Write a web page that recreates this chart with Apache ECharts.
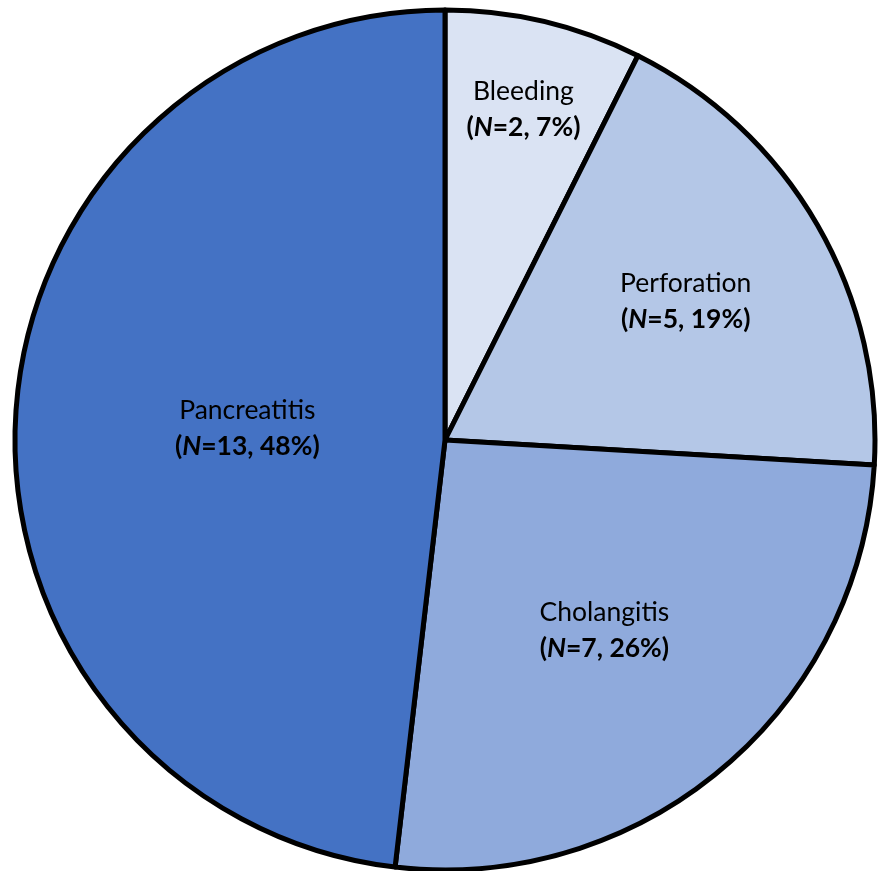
<!DOCTYPE html>
<html>
<head>
<meta charset="utf-8">
<script src="https://cdn.jsdelivr.net/npm/echarts@6/dist/echarts.min.js"></script>
<style>
html,body{margin:0;padding:0;background:#fff;}
#chart{width:878px;height:871px;}
</style>
</head>
<body>
<div id="chart"></div>
<script>
// Data
const categories = ['Bleeding', 'Perforation', 'Cholangitis', 'Pancreatitis'];
const counts = [2, 5, 7, 13];
// Styling / layout (not data)
const colors = ['#DAE3F3', '#B4C7E7', '#8FAADC', '#4472C4'];
const labelRadius = [674, 550, 490, 390]; // label sits at half of this radius

const total = counts.reduce((a, b) => a + b, 0);
const center = [445, 440];
const fontFamily = 'Lato, "Open Sans", sans-serif';

function labelText(i) {
  const pct = Math.round(counts[i] / total * 100);
  return '{n|' + categories[i] + '}\n{b|(}{bi|N}{b|=' + counts[i] + ', ' + pct + '%)}';
}

const fs = 26.5, lh = 36;
const rich = {
  n: { fontSize: fs, fontFamily: fontFamily, color: '#000', lineHeight: lh },
  b: { fontSize: fs, fontFamily: fontFamily, fontWeight: 'bold', color: '#000', lineHeight: lh },
  bi: { fontSize: fs, fontFamily: fontFamily, fontWeight: 'bold', fontStyle: 'italic', color: '#000', lineHeight: lh }
};

const series = [{
  type: 'pie',
  center: center,
  radius: [0, 430],
  startAngle: 90,
  clockwise: true,
  silent: true,
  label: { show: false },
  labelLine: { show: false },
  emphasis: { disabled: true },
  itemStyle: { borderColor: '#000', borderWidth: 5 },
  data: categories.map((c, i) => ({ name: c, value: counts[i], itemStyle: { color: colors[i] } }))
}];

categories.forEach((c, k) => {
  series.push({
    type: 'pie',
    center: center,
    radius: [0, labelRadius[k]],
    startAngle: 90,
    clockwise: true,
    silent: true,
    z: 5,
    emphasis: { disabled: true },
    labelLine: { show: false },
    itemStyle: { color: 'rgba(0,0,0,0)', borderWidth: 0 },
    data: categories.map((name, i) => ({
      name: name,
      value: counts[i],
      label: {
        show: i === k,
        position: 'inside',
        formatter: () => labelText(i),
        rich: rich,
        align: 'center'
      }
    }))
  });
});

const chart = echarts.init(document.getElementById('chart'), null, { renderer: 'canvas' });
chart.setOption({
  backgroundColor: '#fff',
  animation: false,
  series: series
});
</script>
</body>
</html>
